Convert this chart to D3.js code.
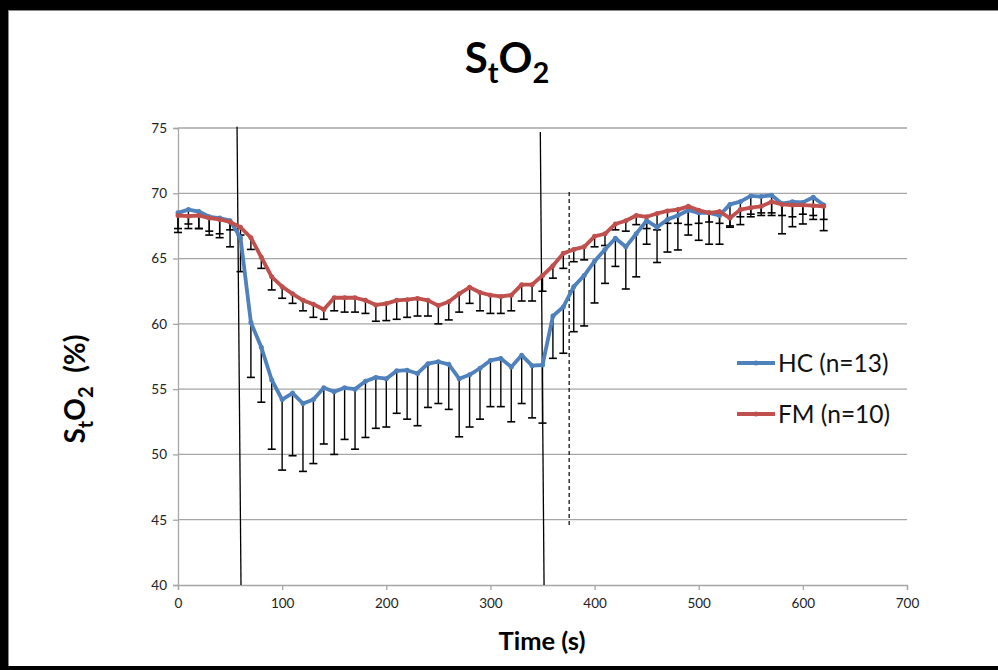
<!DOCTYPE html>
<html><head><meta charset="utf-8">
<script src="https://cdn.jsdelivr.net/npm/d3@7"></script>
<style>
html,body{margin:0;padding:0;background:#fff;}
svg{display:block;}
text{font-family:Lato,"Open Sans",sans-serif;}
</style></head>
<body><svg id="c" width="998" height="670"></svg>
<script>
const times = d3.range(0, 630, 10);
const hcMean = [68.5,68.75,68.6,68.2,68.1,67.9,66.6,60.1,58.2,55.7,54.2,54.7,53.9,54.2,55.1,54.8,55.1,55.0,55.6,55.9,55.8,56.4,56.45,56.2,56.95,57.1,56.9,55.8,56.1,56.6,57.2,57.35,56.7,57.6,56.8,56.85,60.6,61.3,62.85,63.7,64.8,65.7,66.55,65.9,66.9,67.9,67.4,68.0,68.3,68.7,68.5,68.5,68.3,69.15,69.36,69.8,69.75,69.85,69.2,69.35,69.3,69.7,69.1];
const hcLower = [67.0,67.3,67.3,66.8,66.6,65.9,64.0,55.9,54.0,50.4,48.8,49.9,48.7,49.3,50.8,50.0,51.15,50.4,51.3,52.0,52.1,53.15,52.7,52.2,53.6,53.9,53.45,51.35,52.1,52.7,53.66,53.66,52.5,53.9,52.8,52.4,57.36,57.75,59.4,59.84,61.6,63.1,64.4,62.67,63.6,66.1,64.7,65.5,65.66,66.8,66.4,66.1,66.1,67.4,67.6,68.2,68.3,68.3,66.9,67.44,67.65,68.0,67.14];
const fmMean = [68.3,68.25,68.3,68.1,68.0,67.8,67.4,66.6,65.1,63.6,62.85,62.3,61.8,61.5,61.1,62.0,62.0,62.0,61.8,61.45,61.55,61.8,61.85,61.95,61.8,61.4,61.7,62.3,62.8,62.4,62.2,62.1,62.2,63.0,63.0,63.7,64.45,65.4,65.7,65.9,66.7,66.9,67.65,67.9,68.3,68.2,68.45,68.65,68.75,69.0,68.7,68.5,68.6,68.1,68.75,68.9,69.0,69.35,69.15,69.1,69.1,69.05,69.0];
const fmLower = [67.3,67.65,67.3,67.1,66.9,67.2,66.8,65.7,64.25,62.6,61.96,61.57,61.0,60.5,60.35,61.0,60.9,60.9,60.8,60.2,60.25,60.35,60.5,60.6,60.6,60.0,60.3,60.9,61.57,61.0,60.8,60.8,61.0,61.75,61.75,62.5,63.5,64.25,64.76,64.9,65.9,66.0,67.2,67.1,67.6,67.3,67.2,67.7,67.7,67.6,67.7,67.8,67.7,67.5,68.2,68.4,68.5,68.5,68.3,68.2,68.4,68.3,68.0];
const seriesNames = ["HC (n=13)", "FM (n=10)"];
const seriesColors = ["#4F81BD", "#C0504D"];
const xTicks = [0,100,200,300,400,500,600,700];
const yTicks = [40,45,50,55,60,65,70,75];
// vertical marker lines: [t at top, value at top, t at bottom, value at bottom]
const solidMarkers = [[56.7,75.1,60.5,40],[347.9,74.7,351.5,40]];
const dashedMarker = [375.6,70.1,375.6,44.6];

const svg = d3.select("#c");
const L=178, R=907, T=128, B=585;
const x = d3.scaleLinear().domain([0,700]).range([L,R]);
const y = d3.scaleLinear().domain([40,75]).range([B,T]);

// frame
svg.append("rect").attr("x",0).attr("y",0).attr("width",998).attr("height",670).attr("fill","#fff");
svg.append("rect").attr("x",0).attr("y",0).attr("width",998).attr("height",10).attr("fill","#000");
svg.append("rect").attr("x",0).attr("y",0).attr("width",8).attr("height",670).attr("fill","#000");
svg.append("rect").attr("x",0).attr("y",666).attr("width",998).attr("height",4).attr("fill","#000");
svg.append("line").attr("x1",8).attr("x2",998).attr("y1",10.5).attr("y2",10.5).attr("stroke","#888").attr("stroke-width",1);
svg.append("line").attr("x1",8.5).attr("x2",8.5).attr("y1",10).attr("y2",666).attr("stroke","#888").attr("stroke-width",1);

// gridlines
svg.append("g").selectAll("line").data(yTicks.filter(d=>d>40)).join("line")
  .attr("x1",L).attr("x2",R).attr("y1",d=>y(d)).attr("y2",d=>y(d))
  .attr("stroke","#a6a6a6").attr("stroke-width",1.3);

// axes
const gy = svg.append("g").attr("transform",`translate(${L},0)`)
  .call(d3.axisLeft(y).tickValues(yTicks).tickSize(5).tickPadding(6));
const gx = svg.append("g").attr("transform",`translate(0,${B})`)
  .call(d3.axisBottom(x).tickValues(xTicks).tickSize(5).tickPadding(8));
[gx,gy].forEach(g=>{
  g.select(".domain").attr("stroke","#a6a6a6").attr("stroke-width",1.3);
  g.selectAll(".tick line").attr("stroke","#a6a6a6").attr("stroke-width",1.3);
  g.selectAll(".tick text").attr("fill","#222").style("font-family","Lato,'Open Sans',sans-serif").style("font-size","13.5px");
});

// error bars
function errBars(mean, lower){
  const g = svg.append("g");
  g.selectAll("line.v").data(times).join("line").attr("class","v")
    .attr("x1",(d)=>x(d)).attr("x2",(d)=>x(d))
    .attr("y1",(d,i)=>y(mean[i])).attr("y2",(d,i)=>y(lower[i]))
    .attr("stroke","#000").attr("stroke-width",1.4);
  g.selectAll("line.c").data(times).join("line").attr("class","c")
    .attr("x1",(d)=>x(d)-4).attr("x2",(d)=>x(d)+4)
    .attr("y1",(d,i)=>y(lower[i])).attr("y2",(d,i)=>y(lower[i]))
    .attr("stroke","#000").attr("stroke-width",1.6);
}
errBars(hcMean,hcLower);
errBars(fmMean,fmLower);

// marker lines
svg.append("g").selectAll("line").data(solidMarkers).join("line")
  .attr("x1",d=>x(d[0])).attr("y1",d=>y(d[1])).attr("x2",d=>x(d[2])).attr("y2",d=>y(d[3]))
  .attr("stroke","#000").attr("stroke-width",1.3);
svg.append("line")
  .attr("x1",x(dashedMarker[0])).attr("y1",y(dashedMarker[1])).attr("x2",x(dashedMarker[2])).attr("y2",y(dashedMarker[3]))
  .attr("stroke","#000").attr("stroke-width",1.2).attr("stroke-dasharray","4,3");

// series
function series(vals, color){
  const pts = times.map((t,i)=>[t,vals[i]]);
  svg.append("path").datum(pts)
    .attr("d", d3.line().x(d=>x(d[0])).y(d=>y(d[1])))
    .attr("fill","none").attr("stroke",color).attr("stroke-width",3.8).attr("stroke-linejoin","round");
  svg.append("g").selectAll("circle").data(pts).join("circle")
    .attr("cx",d=>x(d[0])).attr("cy",d=>y(d[1])).attr("r",2.5).attr("fill",color);
}
series(hcMean, seriesColors[0]);
series(fmMean, seriesColors[1]);

// legend
const legY = [363, 414];
seriesNames.forEach((n,i)=>{
  svg.append("line").attr("x1",737).attr("x2",775).attr("y1",legY[i]).attr("y2",legY[i])
    .attr("stroke",seriesColors[i]).attr("stroke-width",3.8);
  svg.append("circle").attr("cx",756).attr("cy",legY[i]).attr("r",2.5).attr("fill",seriesColors[i]);
  svg.append("text").attr("x",778).attr("y",legY[i]+9).attr("font-size","24.5px").attr("fill","#111").text(n);
});

// title
const title = svg.append("text").attr("x",507).attr("y",73).attr("text-anchor","middle")
  .attr("font-weight","bold").attr("font-size","42px").attr("fill","#000");
title.append("tspan").text("S");
title.append("tspan").attr("font-size","29px").attr("dy",10).text("t");
title.append("tspan").attr("dy",-10).text("O");
title.append("tspan").attr("font-size","29px").attr("dy",10).text("2");

// axis titles
svg.append("text").attr("x",542).attr("y",650).attr("text-anchor","middle")
  .attr("font-weight","bold").attr("font-size","25.5px").attr("fill","#000").text("Time (s)");
const yl = svg.append("text").attr("transform","translate(85,389) rotate(-90)").attr("text-anchor","middle")
  .attr("font-weight","bold").attr("font-size","28px").attr("fill","#000");
yl.append("tspan").text("S");
yl.append("tspan").attr("font-size","20px").attr("dy",8).text("t");
yl.append("tspan").attr("dy",-8).text("O");
yl.append("tspan").attr("font-size","20px").attr("dy",8).text("2");
yl.append("tspan").attr("dy",-8).text("\u00a0\u00a0(%)");
</script></body></html>
